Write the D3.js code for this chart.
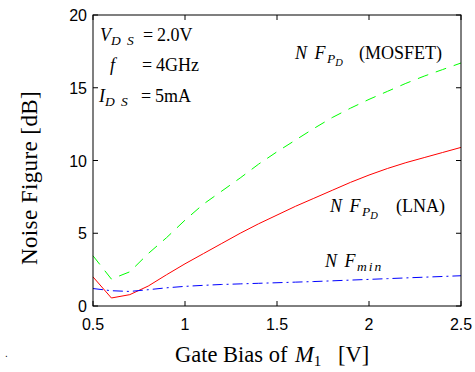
<!DOCTYPE html>
<html><head><meta charset="utf-8">
<script src="https://cdn.jsdelivr.net/npm/d3@7"></script>
<style>body{margin:0;background:#fff}svg{display:block}</style>
</head><body>
<svg id="c" width="475" height="372"></svg>
<script>
const gateBias = [0.5,0.6,0.7,0.8,0.9,1.0,1.1,1.2,1.3,1.4,1.5,1.6,1.7,1.8,1.9,2.0,2.1,2.2,2.3,2.4,2.5];
const nfMosfet = [3.45,1.85,2.35,3.6,4.7,5.9,7.0,7.9,8.8,9.75,10.6,11.4,12.2,12.95,13.6,14.2,14.75,15.3,15.8,16.25,16.7];
const nfLna    = [2.0,0.55,0.78,1.37,2.15,2.9,3.6,4.3,5.0,5.65,6.25,6.85,7.4,7.95,8.5,9.0,9.45,9.85,10.2,10.55,10.9];
const nfMin    = [1.2,1.05,1.0,1.12,1.25,1.35,1.42,1.48,1.52,1.56,1.6,1.64,1.68,1.73,1.78,1.83,1.88,1.93,1.98,2.03,2.08];
const xTicks = [0.5,1,1.5,2,2.5];
const yTicks = [0,5,10,15,20];

const svg = d3.select("#c");
const L=93,R=461,T=15,B=306;
const x = d3.scaleLinear().domain([0.5,2.5]).range([L,R]);
const y = d3.scaleLinear().domain([0,20]).range([B,T]);

const sans = "'Liberation Sans', Arial, sans-serif";
const serif = "'Liberation Serif', 'Times New Roman', serif";

const tk = 5;
const g = svg.append("g");
xTicks.forEach(v=>{
  g.append("line").attr("x1",x(v)).attr("x2",x(v)).attr("y1",B).attr("y2",B-tk).attr("stroke","#000");
  g.append("line").attr("x1",x(v)).attr("x2",x(v)).attr("y1",T).attr("y2",T+tk).attr("stroke","#000");
  g.append("text").attr("x",x(v)).attr("y",B+24).attr("text-anchor","middle")
   .attr("font-family",sans).attr("font-size",16).text(v);
});
yTicks.forEach(v=>{
  g.append("line").attr("x1",L).attr("x2",L+tk).attr("y1",y(v)).attr("y2",y(v)).attr("stroke","#000");
  g.append("line").attr("x1",R).attr("x2",R-tk).attr("y1",y(v)).attr("y2",y(v)).attr("stroke","#000");
  g.append("text").attr("x",L-6).attr("y",y(v)+6).attr("text-anchor","end")
   .attr("font-family",sans).attr("font-size",16).text(v);
});

const line = d3.line().x((d,i)=>x(gateBias[i])).y(d=>y(d));
svg.append("path").attr("d",line(nfMosfet)).attr("fill","none").attr("stroke","#00ff00").attr("stroke-width",1).attr("stroke-dasharray","11,8");
svg.append("path").attr("d",line(nfLna)).attr("fill","none").attr("stroke","#ff0000").attr("stroke-width",1);
svg.append("path").attr("d",line(nfMin)).attr("fill","none").attr("stroke","#0000ff").attr("stroke-width",1).attr("stroke-dasharray","10,4,2,4");

svg.append("rect").attr("x",L).attr("y",T).attr("width",R-L).attr("height",B-T)
  .attr("fill","none").attr("stroke","#000").attr("stroke-width",1);

// axis labels
svg.append("text").attr("x",175).attr("y",362)
  .attr("font-family",serif).attr("font-size",22.5)
  .call(t=>{t.append("tspan").text("Gate Bias of ");
    t.append("tspan").attr("font-style","italic").attr("dx",2).text("M");
    t.append("tspan").attr("font-size",15).attr("dy",4).text("1");
    t.append("tspan").attr("dy",-4).attr("x",338).text("[V]");});
svg.append("text").attr("transform","translate(37,178) rotate(-90)")
  .attr("text-anchor","middle").attr("font-family",serif).attr("font-size",23)
  .attr("letter-spacing",0.4)
  .text("Noise Figure [dB]");

function mathText(xp, yp, parts, fs){
  const t = svg.append("text").attr("x",xp).attr("y",yp).attr("font-family",serif).attr("font-size",fs);
  let cur=0;
  parts.forEach(p=>{
    const s=t.append("tspan").text(p.t);
    if(p.i) s.attr("font-style","italic");
    if(p.fs) s.attr("font-size",p.fs);
    const d=(p.dy||0)-cur; if(d) s.attr("dy",d); cur=(p.dy||0);
    if(p.ls) s.attr("letter-spacing",p.ls);
    if(p.dx) s.attr("dx",p.dx);
    if(p.x!==undefined) s.attr("x",p.x);
  });
  return t;
}
mathText(100,41,[{t:"V",i:1},{t:"D S",i:1,fs:13.5,dy:4,ls:1.5},{t:"=",x:143},{t:"2.0V",x:157}],18);
mathText(110,71,[{t:"f",i:1},{t:"=",x:142},{t:"4GHz",x:156}],18);
mathText(99,102,[{t:"I",i:1},{t:"D S",i:1,fs:13.5,dy:4,ls:1.5},{t:"=",x:141},{t:"5mA",x:155}],18);

mathText(295,59,[{t:"N F",i:1,ls:1.5},{t:"P",i:1,fs:13.5,dy:4},{t:"D",i:1,fs:10.5,dy:7},{t:"(MOSFET)",x:359}],18);
mathText(330,212,[{t:"N F",i:1,ls:1.5},{t:"P",i:1,fs:13.5,dy:4},{t:"D",i:1,fs:10.5,dy:7},{t:"(LNA)",x:396}],18);
mathText(325,267,[{t:"N F",i:1,ls:1.5},{t:"min",i:1,fs:13.5,dy:4,ls:2}],18);

svg.append("text").attr("x",5).attr("y",357).attr("font-family",sans).attr("font-size",10).text(".");
</script>
</body></html>
